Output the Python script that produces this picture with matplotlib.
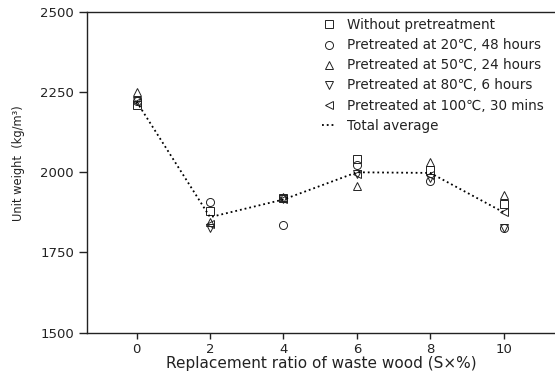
import matplotlib
matplotlib.use("Agg")
import matplotlib.pyplot as plt

plt.rcParams['font.family'] = ['DejaVu Sans']

ratios = [0, 2, 4, 6, 8, 10]
without_pre = [2210, 1880, 1920, 2042, 2006, 1900]
pre_20c_48h = [2222, 1907, 1834, 2022, 1973, 1826]
pre_50c_24h = [2250, 1845, 1922, 1957, 2032, 1928]
pre_80c_6h = [2224, 1826, 1918, 1995, 1982, 1826]
pre_100c_30m = [2220, 1840, 1918, 1995, 1990, 1876]
total_average = [2220, 1860, 1915, 2000, 1998, 1875]

labels = [
    "Without pretreatment",
    "Pretreated at 20\u2103, 48 hours",
    "Pretreated at 50\u2103, 24 hours",
    "Pretreated at 80\u2103, 6 hours",
    "Pretreated at 100\u2103, 30 mins",
    "Total average",
]
yticks = [1500, 1750, 2000, 2250, 2500]
xticks = [0, 2, 4, 6, 8, 10]

ink = '#222222'

fig = plt.figure(figsize=(5.55, 3.77), dpi=100)
ax = fig.add_axes([0.157, 0.118, 0.843, 0.85])

series = [without_pre, pre_20c_48h, pre_50c_24h, pre_80c_6h, pre_100c_30m]
marker_styles = ['s', 'o', '^', 'v', '<']
for vals, mk, lab in zip(series, marker_styles, labels[:5]):
    ax.plot(ratios, vals, linestyle='none', marker=mk, markersize=5.8,
            markerfacecolor='none', markeredgecolor=ink,
            markeredgewidth=0.7, label=lab)

ax.plot(ratios, total_average, linestyle=':', color='black', linewidth=1.3,
        label=labels[5])

ax.set_xlim(-1.35, 11.4)
ax.set_ylim(1500, 2500)
ax.set_xticks(xticks)
ax.set_yticks(yticks)
ax.spines['right'].set_visible(False)
for s in ['left', 'bottom', 'top']:
    ax.spines[s].set_color(ink)
    ax.spines[s].set_linewidth(1.0)
ax.tick_params(axis='y', direction='out', length=6, width=1.0,
               labelsize=9.5, colors=ink)
ax.tick_params(axis='x', direction='out', length=4, width=1.0,
               labelsize=9.5, colors=ink)

ax.set_xlabel("Replacement ratio of waste wood (S\u00d7%)", fontsize=11,
              color=ink, labelpad=0)
ax.set_ylabel("Unit weight  (kg/m\u00b3)", fontsize=8.3, color=ink)
ax.yaxis.set_label_coords(-0.132, 0.53)

leg = ax.legend(loc='upper right', frameon=False, fontsize=9.75,
                handlelength=1.0, handletextpad=0.85, labelspacing=0.45,
                bbox_to_anchor=(0.99, 1.0), borderaxespad=0.05)
for t in leg.get_texts():
    t.set_color(ink)

fig.savefig("out.png", dpi=100)
